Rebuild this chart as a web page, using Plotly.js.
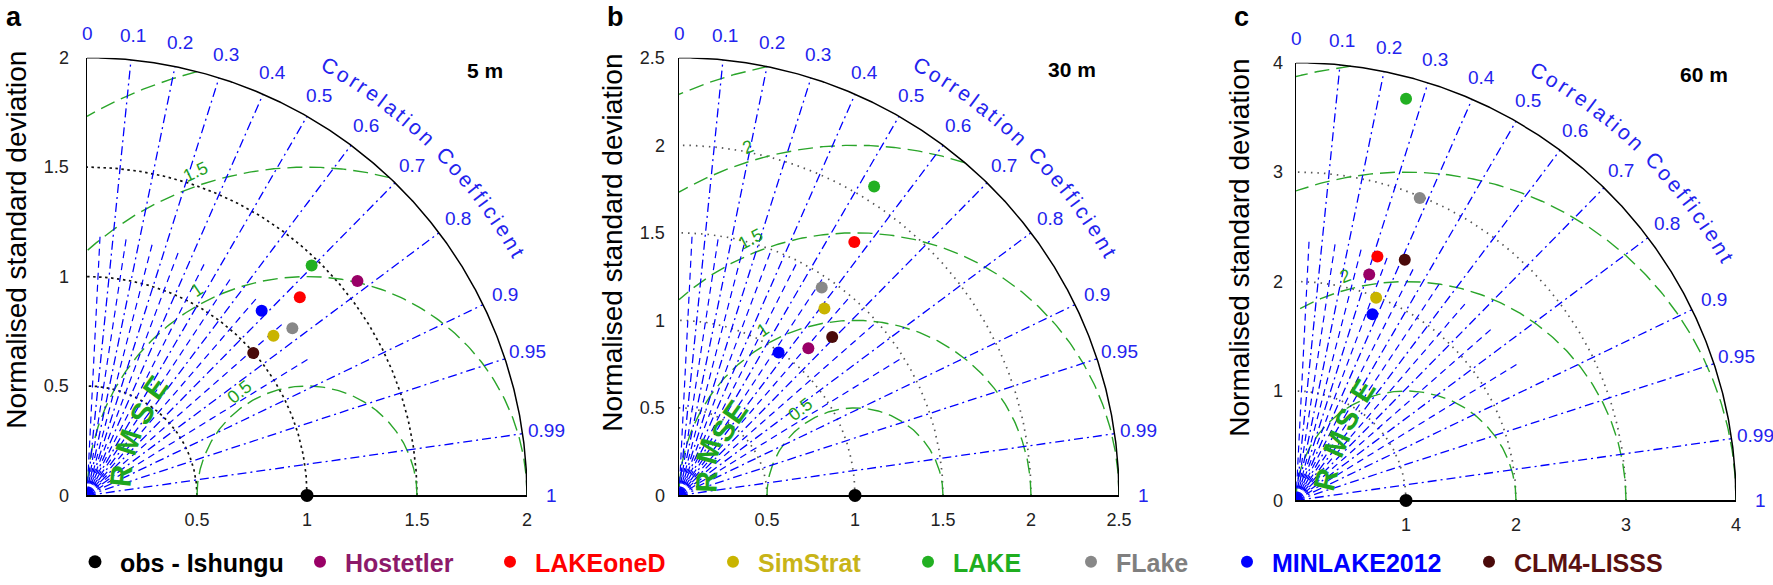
<!DOCTYPE html>
<html>
<head>
<meta charset="utf-8">
<script src="https://cdn.plot.ly/plotly-3.0.1.min.js"></script>
<style>
html,body{margin:0;padding:0;background:#ffffff;}
#chart{width:1773px;height:585px;}
</style>
</head>
<body>
<div id="chart"></div>
<script>
// ================= DATA =================
const modelNames = ['Hostetler', 'LAKEoneD', 'SimStrat', 'LAKE', 'FLake', 'MINLAKE2012', 'CLM4-LISSS'];
const obsName = 'obs - Ishungu';
const depthLabels = ['5 m', '30 m', '60 m'];
const panelLetters = ['a', 'b', 'c'];

// normalised standard deviation of each model (order of modelNames)
const std5m  = [1.572, 1.325, 1.118, 1.465, 1.206, 1.159, 0.997];
const std30m = [1.117, 1.757, 1.350, 2.084, 1.438, 0.993, 1.256];
const std60m = [2.168, 2.349, 1.990, 3.804, 2.984, 1.837, 2.412];
// correlation coefficient of each model
const cor5m  = [0.782, 0.730, 0.758, 0.697, 0.774, 0.685, 0.758];
const cor30m = [0.658, 0.567, 0.612, 0.532, 0.564, 0.570, 0.693];
const cor60m = [0.307, 0.315, 0.366, 0.263, 0.377, 0.378, 0.410];
// observation (reference) point
const obsStd = [1, 1, 1];
const obsCor = [1, 1, 1];

// axis values
const stdMax = [2, 2.5, 4];
const stdTicks5m  = [0, 0.5, 1, 1.5, 2];
const stdTicks30m = [0, 0.5, 1, 1.5, 2, 2.5];
const stdTicks60m = [0, 1, 2, 3, 4];
const stdArcs5m  = [0.5, 1, 1.5];
const stdArcs30m = [0.5, 1, 1.5, 2];
const stdArcs60m = [1, 2, 3];
const rmsLevels5m  = [0.5, 1, 1.5, 2];
const rmsLevels30m = [0.5, 1, 1.5, 2, 2.5];
const rmsLevels60m = [1, 2, 3, 4];
const rmsLabels5m  = [0.5, 1, 1.5];
const rmsLabels30m = [0.5, 1, 1.5, 2];
const rmsLabels60m = [2];
const corTicks = [0, 0.1, 0.2, 0.3, 0.4, 0.5, 0.6, 0.7, 0.8, 0.9, 0.95, 0.99, 1];
const corTickLabels = ['0', '0.1', '0.2', '0.3', '0.4', '0.5', '0.6', '0.7', '0.8', '0.9', '0.95', '0.99', '1'];
const corMinor = [0.05, 0.15, 0.25, 0.35, 0.45, 0.55, 0.65, 0.75, 0.85];

// ================= STYLE / LAYOUT =================
const W = 1773, H = 585, RPX = 440;
const FONT = '"Liberation Sans", Arial, Helvetica, sans-serif';
const modelColors = ['#990066', '#ff0000', '#c9b400', '#22b022', '#888888', '#0000ff', '#4a0a0a'];
const modelTextColors = ['#8c1a6a', '#ff0000', '#c8b418', '#1fae1f', '#7f7f7f', '#0000ff', '#5a1010'];
const origin = [[87, 498], [679, 498], [1296, 503]];
const yStandoff = [13, 9, 8];
const depthOffset = [[398, 427], [393, 428], [408, 428]];
const letterX = [14, 615, 1241];
const yTitlePos = [[17, 241], [613, 244], [1240, 249]];
const rmsLabelAngle = [[123, 118, 109], [122, 119, 112, 107], [105]];
const rmseLetters = ['R', 'M', 'S', 'E'];
const rmseLetterPos = [
  [[0.155, 0.09], [0.19, 0.245], [0.25, 0.375], [0.31, 0.495]],
  [[0.155, 0.08], [0.17, 0.255], [0.255, 0.37], [0.32, 0.48]],
  [[0.27, 0.19], [0.37, 0.52], [0.46, 0.74], [0.61, 1.0]]
];
const rmseLetterAngle = [[-84, -72, -63, -54], [-88, -75, -63, -55], [-76, -66, -60, -58]];
const legendMarkerX = [95, 320, 510, 733, 928, 1091, 1247, 1489];
const legendY = 565;

const stdSets = [std5m, std30m, std60m];
const corSets = [cor5m, cor30m, cor60m];
const tickSets = [stdTicks5m, stdTicks30m, stdTicks60m];
const arcSets = [stdArcs5m, stdArcs30m, stdArcs60m];
const rmsSets = [rmsLevels5m, rmsLevels30m, rmsLevels60m];
const rmsLabSets = [rmsLabels5m, rmsLabels30m, rmsLabels60m];

const D2R = Math.PI / 180;
const traces = [];
const annotations = [];
const layout = {
  width: W, height: H,
  margin: {l: 0, r: 0, t: 0, b: 0, pad: 0},
  paper_bgcolor: '#ffffff', plot_bgcolor: 'rgba(0,0,0,0)',
  showlegend: true, hovermode: false,
  font: {family: FONT, color: '#000'},
  annotations: annotations
};

function paperOf(p, u, v) {
  const ox = origin[p][0], oy = origin[p][1], k = RPX / stdMax[p];
  return [(ox + u * k) / W, (H - oy + v * k) / H];
}

// canvas for measuring characters of the curved title
const ctx = document.createElement('canvas').getContext('2d');
const CT_SIZE = 21;
ctx.font = CT_SIZE + 'px "Liberation Sans", Arial';
const corTitle = 'Correlation Coefficient';

const legendIds = ['legend', 'legend2', 'legend3', 'legend4', 'legend5', 'legend6', 'legend7', 'legend8'];

for (let p = 0; p < 3; p++) {
  const R = stdMax[p];
  const ox = origin[p][0], oy = origin[p][1];
  const k = RPX / R;
  const sfx = p ? String(p + 1) : '';
  const xa = 'x' + sfx, ya = 'y' + sfx;
  const ticks = tickSets[p];

  layout['xaxis' + sfx] = {
    domain: [ox / W, (ox + RPX) / W], range: [0, R], anchor: ya,
    showgrid: false, zeroline: false, showline: true, linecolor: '#000', linewidth: 1.5,
    tickmode: 'array', tickvals: ticks.filter(t => t > 0), ticktext: ticks.filter(t => t > 0).map(String),
    ticks: '', ticklabelstandoff: 7,
    tickfont: {family: FONT, size: 18, color: '#222'}, fixedrange: true
  };
  layout['yaxis' + sfx] = {
    domain: [(H - oy) / H, (H - oy + RPX) / H], range: [0, R], anchor: xa,
    showgrid: false, zeroline: false, showline: true, linecolor: '#000', linewidth: 1.5,
    tickmode: 'array', tickvals: ticks, ticktext: ticks.map(String),
    ticks: '', ticklabelstandoff: yStandoff[p],
    tickfont: {family: FONT, size: 18, color: '#222'}, fixedrange: true
  };

  // standard deviation arcs
  const sx = [], sy = [];
  arcSets[p].forEach(s => {
    for (let i = 0; i <= 180; i++) { const t = i * 0.5 * D2R; sx.push(s * Math.cos(t)); sy.push(s * Math.sin(t)); }
    sx.push(null); sy.push(null);
  });
  traces.push({type: 'scatter', mode: 'lines', x: sx, y: sy, xaxis: xa, yaxis: ya, showlegend: false, hoverinfo: 'skip',
    line: {color: p === 0 ? '#111' : '#555', width: p === 0 ? 1.7 : 1.7, dash: p === 0 ? '2.5px,3.5px' : '1.5px,5px'}});

  // RMS circles centred on the reference point
  const rx = [], ry = [];
  rmsSets[p].forEach(rho => {
    let ps = 0, pe = Math.PI;
    if (1 + rho > R) { const xi = (R * R - rho * rho + 1) / 2; ps = Math.acos((xi - 1) / rho); }
    if (rho > 1) pe = Math.acos(-1 / rho);
    for (let i = 0; i <= 200; i++) { const f = ps + (pe - ps) * i / 200; rx.push(1 + rho * Math.cos(f)); ry.push(rho * Math.sin(f)); }
    rx.push(null); ry.push(null);
  });
  traces.push({type: 'scatter', mode: 'lines', x: rx, y: ry, xaxis: xa, yaxis: ya, showlegend: false, hoverinfo: 'skip',
    line: {color: '#2aa52a', width: 1.4, dash: '15px,7px'}});

  // correlation lines (major full length, minor shorter)
  const cx = [], cy = [];
  corTicks.filter(c => c > 0 && c < 1).forEach(c => {
    cx.push(0, R * c, null); cy.push(0, R * Math.sqrt(1 - c * c), null);
  });
  traces.push({type: 'scatter', mode: 'lines', x: cx, y: cy, xaxis: xa, yaxis: ya, showlegend: false, hoverinfo: 'skip',
    line: {color: '#0000ff', width: 1.3, dash: '9px,4px,2px,4px'}});
  const mx = [], my = [];
  corMinor.forEach(c => {
    mx.push(0, 0.6 * R * c, null); my.push(0, 0.6 * R * Math.sqrt(1 - c * c), null);
  });
  traces.push({type: 'scatter', mode: 'lines', x: mx, y: my, xaxis: xa, yaxis: ya, showlegend: false, hoverinfo: 'skip',
    line: {color: '#0000ff', width: 1.2, dash: '7px,5px'}});

  // outer arc
  const ax = [], ay = [];
  for (let i = 0; i <= 360; i++) { const t = i * 0.25 * D2R; ax.push(R * Math.cos(t)); ay.push(R * Math.sin(t)); }
  traces.push({type: 'scatter', mode: 'lines', x: ax, y: ay, xaxis: xa, yaxis: ya, showlegend: false, hoverinfo: 'skip',
    line: {color: '#000', width: 1.5}});

  // reference point
  traces.push({type: 'scatter', mode: 'markers', name: '<b>' + obsName + '</b>',
    x: [obsStd[p] * obsCor[p]], y: [obsStd[p] * Math.sqrt(1 - obsCor[p] * obsCor[p])],
    xaxis: xa, yaxis: ya, cliponaxis: false, hoverinfo: 'skip',
    marker: {color: '#000', size: 13}, showlegend: p === 0, legend: legendIds[0]});

  // model points
  modelNames.forEach((nm, i) => {
    const s = stdSets[p][i], c = corSets[p][i];
    traces.push({type: 'scatter', mode: 'markers', name: '<b>' + nm + '</b>',
      x: [s * c], y: [s * Math.sqrt(1 - c * c)], xaxis: xa, yaxis: ya, cliponaxis: false, hoverinfo: 'skip',
      marker: {color: modelColors[i], size: 12}, showlegend: p === 0, legend: legendIds[i + 1]});
  });

  // correlation tick labels
  corTicks.forEach((c, i) => {
    const th = Math.acos(c);
    const pp = paperOf(p, 1.055 * R * Math.cos(th), 1.055 * R * Math.sin(th));
    annotations.push({xref: 'paper', yref: 'paper', x: pp[0], y: pp[1], xanchor: 'center', yanchor: 'middle',
      text: corTickLabels[i], showarrow: false, font: {family: FONT, size: 19, color: '#2323ee'}});
  });

  // curved "Correlation Coefficient"
  const widths = [...corTitle].map(ch => ctx.measureText(ch).width);
  const total = widths.reduce((a, b) => a + b, 0);
  const th1 = 61.6, th2 = 29.2, rc = 1.125 * RPX;
  const arcLen = (th1 - th2) * D2R * rc;
  const extra = (arcLen - total) / (corTitle.length - 1);
  let run = 0;
  [...corTitle].forEach((ch, i) => {
    const cen = run + widths[i] / 2;
    run += widths[i] + extra;
    if (ch === ' ') return;
    const th = th1 - (cen / rc) / D2R;
    annotations.push({xref: 'paper', yref: 'paper',
      x: (ox + rc * Math.cos(th * D2R)) / W, y: (H - oy + rc * Math.sin(th * D2R)) / H,
      xanchor: 'center', yanchor: 'middle', text: ch, showarrow: false, textangle: 90 - th,
      font: {family: FONT, size: CT_SIZE, color: '#2323ee'}});
  });

  // RMS level labels
  rmsLabSets[p].forEach((rho, i) => {
    const th = rmsLabelAngle[p][i] * D2R;
    const rr = rho + 14 / k;
    annotations.push({xref: xa, yref: ya, x: 1 + rr * Math.cos(th), y: rr * Math.sin(th),
      xanchor: 'center', yanchor: 'middle', text: String(rho), showarrow: false,
      textangle: -(rmsLabelAngle[p][i] - 90) - 6, font: {family: FONT, size: 18, color: '#1f9f1f'}});
  });

  // RMSE title letters
  rmseLetters.forEach((ch, i) => {
    annotations.push({xref: xa, yref: ya, x: rmseLetterPos[p][i][0], y: rmseLetterPos[p][i][1],
      xanchor: 'center', yanchor: 'middle', text: '<b>' + ch + '</b>', showarrow: false,
      textangle: rmseLetterAngle[p][i], font: {family: FONT, size: 30, color: '#1ea51e'}});
  });

  // depth label
  annotations.push({xref: 'paper', yref: 'paper', x: (ox + depthOffset[p][0]) / W, y: (H - oy + depthOffset[p][1]) / H,
    xanchor: 'center', yanchor: 'middle', text: '<b>' + depthLabels[p] + '</b>', showarrow: false,
    font: {family: FONT, size: 21, color: '#000'}});

  // panel letter
  annotations.push({xref: 'paper', yref: 'paper', x: letterX[p] / W, y: 1, xanchor: 'center', yanchor: 'top',
    text: '<b>' + panelLetters[p] + '</b>', showarrow: false,
    font: {family: FONT, size: 27, color: '#000'}});

  // y axis title
  annotations.push({xref: 'paper', yref: 'paper', x: yTitlePos[p][0] / W, y: (H - yTitlePos[p][1]) / H,
    xanchor: 'center', yanchor: 'middle', text: 'Normalised standard deviation', showarrow: false, textangle: -90,
    font: {family: FONT, size: 28, color: '#000'}});
}

// one legend per entry, placed along the bottom
const legendTextColors = ['#000000'].concat(modelTextColors);
legendIds.forEach((id, j) => {
  layout[id] = {
    x: (legendMarkerX[j] - 25) / W, xanchor: 'left', y: (H - legendY) / H, yanchor: 'middle',
    orientation: 'h', bgcolor: 'rgba(0,0,0,0)', borderwidth: 0, itemwidth: 40,
    itemclick: false, itemdoubleclick: false,
    font: {family: FONT, size: 25, color: legendTextColors[j]}
  };
});

Plotly.newPlot('chart', traces, layout, {displayModeBar: false, staticPlot: true});
</script>
</body>
</html>
